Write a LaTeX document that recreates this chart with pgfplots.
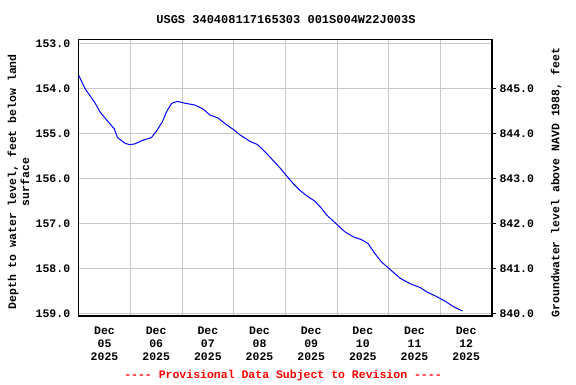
\documentclass[border=0pt]{standalone}
\usepackage{fontspec}
\setmainfont{Liberation Mono}[Ligatures=TeXOff]
\usepackage{pgfplots}
\pgfplotsset{compat=1.18}
\newcommand\lf{\fontsize{11.5}{13}\selectfont\bfseries}
\definecolor{gridgray}{RGB}{200,200,200}
\begin{document}
\begin{tikzpicture}
\useasboundingbox (0,0) rectangle (576pt,384pt);
\node[font=\fontsize{12}{14}\selectfont\bfseries] at (286pt,364pt) {USGS 340408117165303 001S004W22J003S};
\node[font=\lf, text=red] at (283pt,8pt) {---- Provisional Data Subject to Revision ----};
\begin{axis}[
  at={(78.7pt,68pt)}, anchor=south west,
  scale only axis, width=413.3pt, height=276.5pt,
  xmin=0, xmax=8, ymin=152.916, ymax=159.05, y dir=reverse,
  xtick={0.5,1.5,2.5,3.5,4.5,5.5,6.5,7.5},
  xticklabels={{Dec\\05\\2025},{Dec\\06\\2025},{Dec\\07\\2025},{Dec\\08\\2025},{Dec\\09\\2025},{Dec\\10\\2025},{Dec\\11\\2025},{Dec\\12\\2025}},
  xticklabel style={align=center, font=\lf, yshift=-7pt},
  minor xtick={1,2,3,4,5,6,7},
  xminorgrids=true, xmajorgrids=false,
  ytick={153,154,155,156,157,158,159},
  yticklabels={153.0,154.0,155.0,156.0,157.0,158.0,159.0},
  yticklabel style={font=\lf, xshift=-5pt},
  ymajorgrids=true,
  major grid style={draw=gridgray, line width=1pt},
  minor grid style={draw=gridgray, line width=1pt},
  major tick length=0pt, minor tick length=0pt,
  axis line style={line width=1.5pt},
  ylabel={Depth to water level, feet below land\\surface},
  ylabel style={align=center, font=\lf, at={(axis description cs:-0.1457,0.485)}, anchor=center},
]
\addplot[color={rgb,255:red,0;green,0;blue,255}, line width=1pt] coordinates {
(0.00,153.71) (0.12,154.00) (0.32,154.33) (0.41,154.52) (0.57,154.74)
(0.69,154.90) (0.75,155.09) (0.90,155.22) (0.99,155.25) (1.09,155.23)
(1.22,155.16) (1.41,155.09) (1.51,154.94) (1.62,154.74) (1.70,154.52)
(1.80,154.33) (1.91,154.29) (2.06,154.33) (2.25,154.37) (2.41,154.46)
(2.54,154.59) (2.70,154.66) (2.83,154.78) (2.99,154.91) (3.12,155.03)
(3.32,155.18) (3.45,155.24) (3.54,155.33) (3.70,155.52) (3.90,155.77)
(4.01,155.92) (4.15,156.11) (4.28,156.26) (4.41,156.38) (4.57,156.50)
(4.70,156.66) (4.80,156.81) (4.99,157.01) (5.15,157.18) (5.31,157.29)
(5.48,157.36) (5.60,157.44) (5.73,157.66) (5.86,157.85) (6.02,158.01)
(6.22,158.21) (6.41,158.33) (6.61,158.42) (6.73,158.51) (6.93,158.62)
(7.09,158.72) (7.25,158.84) (7.43,158.94)
};
\end{axis}
\begin{axis}[
  at={(78.7pt,68pt)}, anchor=south west,
  scale only axis, width=413.3pt, height=276.5pt,
  xmin=0, xmax=8, ymin=839.95, ymax=846.084,
  axis y line*=right, axis x line=none,
  ytick={840,841,842,843,844,845},
  yticklabels={840.0,841.0,842.0,843.0,844.0,845.0},
  yticklabel style={font=\lf},
  tick align=outside, major tick length=4pt,
  ytick style={line width=1pt, black},
  axis line style={line width=1.5pt},
  ylabel={Groundwater level above NAVD 1988, feet},
  ylabel style={font=\lf, at={(axis description cs:1.155,0.483)}, anchor=center},
]
\addplot[draw=none] coordinates {(0,840)};
\end{axis}
\end{tikzpicture}
\end{document}
